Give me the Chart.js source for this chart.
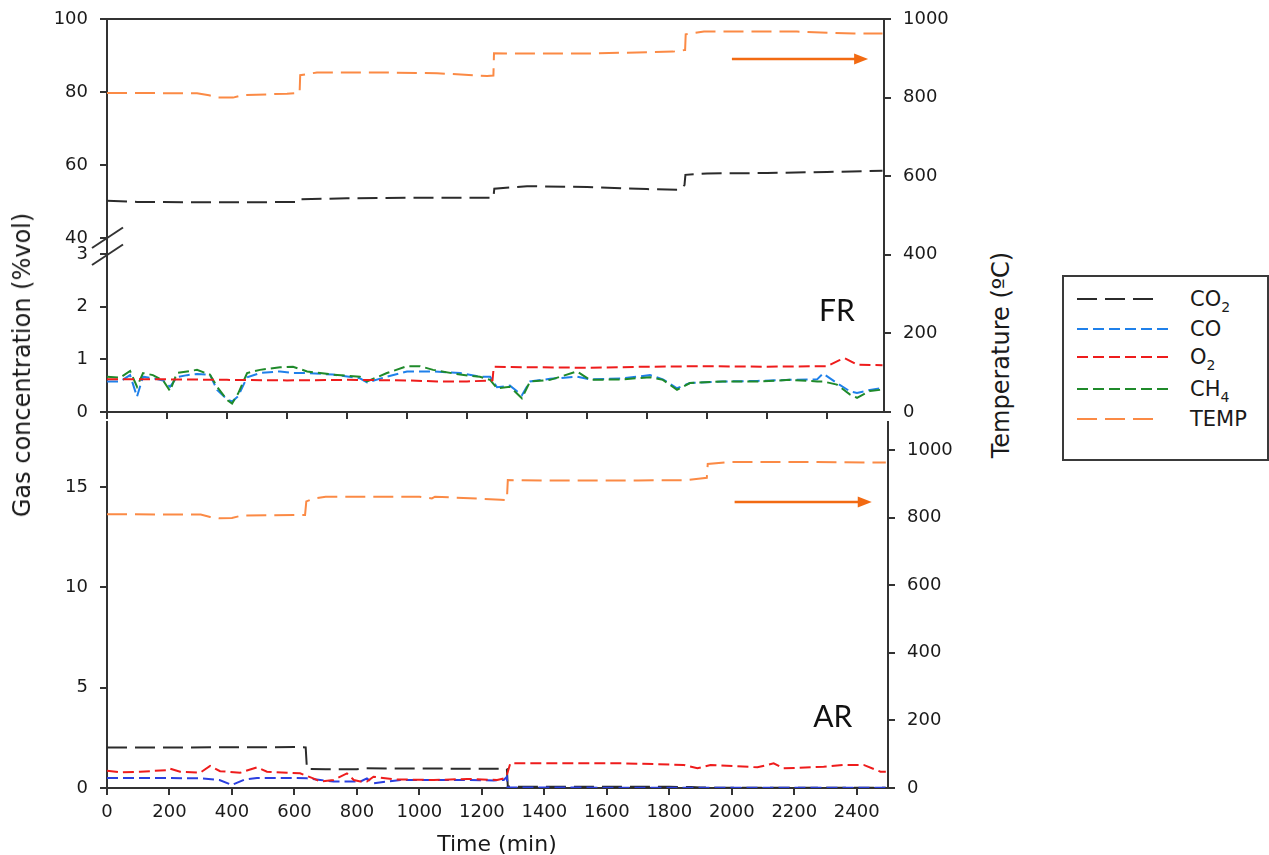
<!DOCTYPE html>
<html>
<head>
<meta charset="utf-8">
<script src="https://cdn.jsdelivr.net/npm/chart.js@4.4.1/dist/chart.umd.min.js"></script>
<style>
  body { margin:0; background:#fff; width:1269px; height:855px; overflow:hidden; position:relative; font-family:'DejaVu Sans', sans-serif; color:#1a1a1a; }
  #frWrap { position:absolute; left:0; top:0; width:960px; height:430px; }
  #arWrap { position:absolute; left:0; top:415px; width:960px; height:440px; }
  .ytitle { position:absolute; font-size:24px; white-space:nowrap; transform:translate(-50%,-50%) rotate(-90deg); }
  #xtitle { position:absolute; left:497px; top:843px; font-size:22px; white-space:nowrap; transform:translate(-50%,-50%); }
  #legend { position:absolute; left:1062px; top:275px; width:203px; height:182px; border:2px solid #3a3a3a; }
  .row { position:absolute; left:0; height:24px; width:200px; }
  .row svg { position:absolute; left:13px; top:0; }
  .row span { position:absolute; left:126px; top:0; line-height:24px; font-size:21px; }
  sub { font-size:14px; vertical-align:-6px; line-height:0; }
</style>
</head>
<body>
<div id="frWrap"><canvas id="fr"></canvas></div>
<div id="arWrap"><canvas id="ar"></canvas></div>
<div class="ytitle" style="left:22px; top:365px;">Gas concentration (%vol)</div>
<div class="ytitle" style="left:1001px; top:355px;">Temperature (ºC)</div>
<div id="xtitle">Time (min)</div>
<div id="legend"></div>
<script>
// ---- FR panel (top) ----
const frTimeTicks = [0, 200, 400, 600, 800, 1000, 1200, 1400, 1600, 1800, 2000, 2200, 2400];
const frLowTicks = [0, 1, 2, 3];
const frHighTicks = [40, 60, 80, 100];
const frTempTicks = [0, 200, 400, 600, 800, 1000];

const frTempT = [0, 300, 340, 370, 420, 450, 600, 642, 644, 700, 900, 1100, 1267, 1288, 1290, 1350, 1600, 1887, 1925, 1927, 1929, 1990, 2300, 2490, 2585];
const frTempV = [812, 811, 806, 800, 800, 806, 810, 812, 857, 864, 864, 862, 855, 856, 913, 912, 912, 917, 921, 921, 961, 968, 968, 963, 963];

const frCo2T = [0, 100, 300, 500, 640, 645, 800, 1000, 1200, 1288, 1291, 1400, 1600, 1800, 1910, 1925, 1928, 2000, 2200, 2400, 2585];
const frCo2V = [50.2, 49.9, 49.8, 49.8, 49.9, 50.6, 50.9, 51.0, 51.0, 51.0, 53.5, 54.2, 54.0, 53.4, 53.2, 54.5, 57.3, 57.7, 57.8, 58.1, 58.4];

const frO2T = [0, 200, 400, 600, 800, 1000, 1100, 1200, 1285, 1289, 1291, 1400, 1600, 1800, 2000, 2200, 2400, 2440, 2460, 2500, 2585];
const frO2V = [0.62, 0.62, 0.61, 0.60, 0.61, 0.60, 0.58, 0.58, 0.60, 0.85, 0.86, 0.85, 0.84, 0.86, 0.87, 0.86, 0.87, 0.98, 1.02, 0.90, 0.89];

const frT = [0, 43, 77, 100, 120, 153, 187, 210, 233, 267, 300, 343, 367, 400, 417, 437, 467, 510, 577, 620, 667, 753, 843, 867, 933, 1000, 1043, 1087, 1177, 1243, 1277, 1300, 1343, 1383, 1410, 1477, 1567, 1610, 1720, 1810, 1853, 1900, 1943, 2053, 2167, 2277, 2367, 2387, 2433, 2477, 2500, 2543, 2577];
const frCh4 = [0.67, 0.65, 0.78, 0.48, 0.74, 0.70, 0.60, 0.40, 0.74, 0.77, 0.80, 0.71, 0.48, 0.23, 0.16, 0.35, 0.74, 0.80, 0.85, 0.86, 0.77, 0.71, 0.67, 0.58, 0.74, 0.87, 0.87, 0.80, 0.71, 0.67, 0.61, 0.45, 0.48, 0.26, 0.58, 0.61, 0.77, 0.61, 0.62, 0.66, 0.61, 0.42, 0.55, 0.58, 0.58, 0.61, 0.58, 0.58, 0.52, 0.33, 0.27, 0.40, 0.42];
const frCo = [0.58, 0.58, 0.70, 0.29, 0.67, 0.64, 0.60, 0.48, 0.66, 0.70, 0.72, 0.71, 0.42, 0.24, 0.20, 0.30, 0.66, 0.74, 0.77, 0.74, 0.74, 0.71, 0.64, 0.56, 0.67, 0.77, 0.77, 0.77, 0.74, 0.67, 0.67, 0.47, 0.50, 0.32, 0.58, 0.63, 0.67, 0.62, 0.64, 0.70, 0.62, 0.45, 0.55, 0.58, 0.59, 0.61, 0.62, 0.73, 0.55, 0.39, 0.36, 0.42, 0.45];

// ---- AR panel (bottom) ----
const arTimeTicks = [0, 200, 400, 600, 800, 1000, 1200, 1400, 1600, 1800, 2000, 2200, 2400];
const arGasTicks = [0, 5, 10, 15];
const arTempTicks = [0, 200, 400, 600, 800, 1000];

const arTempT = [0, 300, 330, 360, 400, 430, 600, 634, 638, 660, 700, 1000, 1040, 1050, 1260, 1280, 1283, 1400, 1700, 1858, 1900, 1920, 1923, 1996, 2200, 2493];
const arTempV = [810, 809, 802, 798, 799, 806, 808, 808, 848, 856, 862, 862, 857, 862, 853, 852, 911, 910, 910, 911, 916, 918, 959, 965, 965, 963];

const arCo2T = [0, 200, 400, 600, 636, 640, 700, 800, 820, 1000, 1200, 1280, 1283, 1500, 1800, 1870, 1900, 2200, 2493];
const arCo2V = [2.02, 2.02, 2.03, 2.04, 2.02, 0.95, 0.93, 0.94, 0.98, 0.97, 0.96, 0.95, 0.07, 0.06, 0.06, 0.05, 0.02, 0.01, 0.01];

const arO2T = [0, 43, 106, 192, 200, 234, 298, 330, 362, 426, 480, 512, 577, 618, 660, 683, 725, 768, 790, 811, 832, 853, 918, 1046, 1153, 1249, 1270, 1280, 1291, 1442, 1654, 1846, 1890, 1932, 2082, 2134, 2166, 2294, 2358, 2422, 2476, 2493];
const arO2V = [0.86, 0.78, 0.81, 0.89, 0.97, 0.81, 0.76, 1.10, 0.84, 0.76, 1.03, 0.81, 0.76, 0.73, 0.48, 0.32, 0.40, 0.73, 0.40, 0.32, 0.32, 0.56, 0.43, 0.40, 0.45, 0.40, 0.48, 0.65, 1.23, 1.23, 1.23, 1.15, 0.98, 1.15, 1.03, 1.23, 0.98, 1.06, 1.15, 1.15, 0.81, 0.81];

const arCoT = [0, 200, 300, 360, 400, 440, 480, 600, 640, 683, 725, 811, 832, 853, 896, 940, 1046, 1153, 1238, 1270, 1280, 1282, 1290, 1500, 2000, 2493];
const arCoV = [0.50, 0.50, 0.48, 0.40, 0.15, 0.42, 0.50, 0.50, 0.48, 0.40, 0.32, 0.32, 0.48, 0.23, 0.32, 0.40, 0.40, 0.40, 0.38, 0.40, 0.56, 0.03, 0.02, 0.02, 0.01, 0.01];

// styles
const C_CO2 = '#2b2b2b', C_CO = '#1f80ea', C_CO_AR = '#2a3fe0', C_O2 = '#ee1c1c', C_CH4 = '#1f8a2a', C_TEMP = '#fb8a45', C_ARROW = '#f26a12';
const D_LONG = [20, 8], D_SHORT = [11, 5];
const FONT = 'DejaVu Sans';

function pts(ts, vs) { return ts.map((t, i) => ({ x: t, y: vs[i] })); }
function ds(label, data, color, dash, axis) {
  return { label, data, borderColor: color, backgroundColor: color, borderDash: dash, borderWidth: 2, pointRadius: 0, tension: 0, fill: false, yAxisID: axis };
}
function fixTicks(arr) { return s => { s.ticks = arr.map(v => ({ value: v })); }; }
// force the axis box size so the plot areas sit where the reference has them
function fitV(w) { return s => { s.width = w; s.paddingTop = 0; s.paddingBottom = 0; }; }
function fitH(h) { return s => { s.height = h; s.paddingLeft = 0; s.paddingRight = 0; }; }
function axisBase(extra) {
  return Object.assign({
    type: 'linear',
    grid: { drawOnChartArea: false, drawTicks: true, tickLength: 7, color: '#333', lineWidth: 2 },
    border: { display: true, color: '#333', width: 2 },
    ticks: { color: '#1a1a1a', padding: 12, font: { family: FONT, size: 18 }, callback: v => String(v) }
  }, extra);
}

const panelExtras = {
  id: 'panelExtras',
  afterDraw(chart, args, o) {
    const ctx = chart.ctx, ca = chart.chartArea;
    const xs = chart.scales.x, yt = chart.scales.yT;
    ctx.save();
    ctx.strokeStyle = '#333';
    ctx.lineWidth = 2;
    if (o.topBorder) {
      ctx.beginPath(); ctx.moveTo(ca.left - 1, ca.top); ctx.lineTo(ca.right + 1, ca.top); ctx.stroke();
    }
    if (o.breakAxis) {
      const ax = ca.left;
      const y1 = chart.scales.yHigh.getPixelForValue(40);
      const y2 = chart.scales.yLow.getPixelForValue(3) + 1;
      [y1, y2].forEach(y => {
        ctx.beginPath(); ctx.moveTo(ax - 15, y + 10); ctx.lineTo(ax + 16, y - 10.5); ctx.stroke();
      });
    }
    // arrow pointing at the temperature axis
    const a = o.arrow;
    const x0 = xs.getPixelForValue(a.from), x1 = xs.getPixelForValue(a.to), ya = yt.getPixelForValue(a.at);
    ctx.strokeStyle = C_ARROW; ctx.fillStyle = C_ARROW; ctx.lineWidth = 2.5;
    ctx.beginPath(); ctx.moveTo(x0, ya); ctx.lineTo(x1 - 10, ya); ctx.stroke();
    ctx.beginPath(); ctx.moveTo(x1, ya); ctx.lineTo(x1 - 14, ya - 5.5); ctx.lineTo(x1 - 14, ya + 5.5); ctx.closePath(); ctx.fill();
    // panel label
    ctx.fillStyle = '#111';
    ctx.font = '30px Lato';
    ctx.textAlign = 'center'; ctx.textBaseline = 'middle';
    ctx.fillText(o.label, xs.getPixelForValue(o.labelAt[0]), yt.getPixelForValue(o.labelAt[1]));
    ctx.restore();
  }
};

new Chart(document.getElementById('fr'), {
  type: 'line',
  data: {
    datasets: [
      ds('O2', pts(frO2T, frO2V), C_O2, D_SHORT, 'yLow'),
      ds('CH4', pts(frT, frCh4), C_CH4, D_SHORT, 'yLow'),
      ds('CO', pts(frT, frCo), C_CO, D_SHORT, 'yLow'),
      ds('CO2', pts(frCo2T, frCo2V), C_CO2, D_LONG, 'yHigh'),
      ds('TEMP', pts(frTempT, frTempV), C_TEMP, D_LONG, 'yT')
    ]
  },
  options: {
    responsive: true,
    maintainAspectRatio: false,
    animation: false,
    layout: { padding: { top: 19, left: 0, right: 0, bottom: 0 } },
    plugins: {
      legend: { display: false },
      tooltip: { enabled: false },
      panelExtras: { label: 'FR', labelAt: [2433, 257], arrow: { from: 2083, to: 2537, at: 898 }, topBorder: true, breakAxis: true }
    },
    scales: {
      x: axisBase({ position: 'bottom', min: 0, max: 2590, afterBuildTicks: fixTicks(frTimeTicks), ticks: { display: false }, afterFit: fitH(18) }),
      yLow: axisBase({ position: 'left', stack: 'gas', stackWeight: 158, min: 0, max: 3, afterBuildTicks: fixTicks(frLowTicks), afterFit: fitV(107) }),
      yHigh: axisBase({ position: 'left', stack: 'gas', stackWeight: 235, min: 35.62, max: 100, afterBuildTicks: fixTicks(frHighTicks), afterFit: fitV(107) }),
      yT: axisBase({ position: 'right', min: 0, max: 1000, afterBuildTicks: fixTicks(frTempTicks), afterFit: fitV(76) })
    }
  },
  plugins: [panelExtras]
});

new Chart(document.getElementById('ar'), {
  type: 'line',
  data: {
    datasets: [
      ds('O2', pts(arO2T, arO2V), C_O2, D_SHORT, 'y'),
      ds('CO', pts(arCoT, arCoV), C_CO_AR, D_SHORT, 'y'),
      ds('CO2', pts(arCo2T, arCo2V), C_CO2, D_LONG, 'y'),
      ds('TEMP', pts(arTempT, arTempV), C_TEMP, D_LONG, 'yT')
    ]
  },
  options: {
    responsive: true,
    maintainAspectRatio: false,
    animation: false,
    layout: { padding: { top: 7, left: 0, right: 0, bottom: 0 } },
    plugins: {
      legend: { display: false },
      tooltip: { enabled: false },
      panelExtras: { label: 'AR', labelAt: [2323, 210], arrow: { from: 2009, to: 2448, at: 846 } }
    },
    scales: {
      x: axisBase({ position: 'bottom', min: 0, max: 2500, afterBuildTicks: fixTicks(arTimeTicks), ticks: { color: '#1a1a1a', padding: 7, maxRotation: 0, font: { family: FONT, size: 18 }, callback: v => String(v) }, afterFit: fitH(67) }),
      y: axisBase({ position: 'left', min: 0, max: 18.24, afterBuildTicks: fixTicks(arGasTicks), afterFit: fitV(107) }),
      yT: axisBase({ position: 'right', min: 0, max: 1083, afterBuildTicks: fixTicks(arTempTicks), afterFit: fitV(72) })
    }
  },
  plugins: [panelExtras]
});

// legend built from the series styles
const legendItems = [
  { html: 'CO<sub>2</sub>', color: C_CO2, dash: D_LONG, y: 22, len: 83 },
  { html: 'CO', color: C_CO, dash: D_SHORT, y: 52, len: 92 },
  { html: 'O<sub>2</sub>', color: C_O2, dash: D_SHORT, y: 80, len: 92 },
  { html: 'CH<sub>4</sub>', color: C_CH4, dash: D_SHORT, y: 112, len: 92 },
  { html: 'TEMP', color: C_TEMP, dash: D_LONG, y: 142, len: 83 }
];
const leg = document.getElementById('legend');
legendItems.forEach(it => {
  const row = document.createElement('div');
  row.className = 'row';
  row.style.top = (it.y - 12) + 'px';
  row.innerHTML = '<svg width="100" height="24"><line x1="0" y1="12" x2="' + it.len + '" y2="12" stroke="' + it.color +
    '" stroke-width="2" stroke-dasharray="' + it.dash.join(' ') + '"/></svg><span>' + it.html + '</span>';
  leg.appendChild(row);
});
</script>
</body>
</html>
